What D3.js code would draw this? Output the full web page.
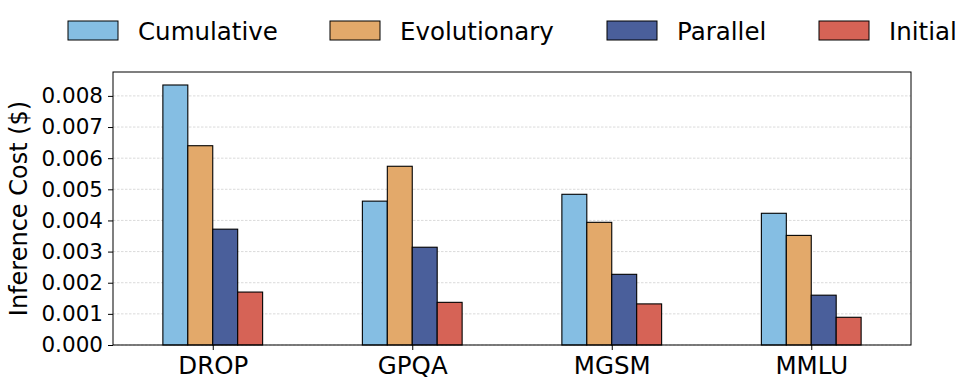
<!DOCTYPE html>
<html>
<head>
<meta charset="utf-8">
<script src="https://cdn.jsdelivr.net/npm/d3@7"></script>
<style>
  body { margin: 0; background: #fff; }
  svg { font-family: "DejaVu Sans", sans-serif; }
</style>
</head>
<body>
<div id="canvas"></div>
<script>
// data
const categories = ["DROP", "GPQA", "MGSM", "MMLU"];
const seriesNames = ["Cumulative", "Evolutionary", "Parallel", "Initial"];
const cumulative = [0.00835, 0.00462, 0.00484, 0.00423];
const evolutionary = [0.00640, 0.00574, 0.00394, 0.00352];
const parallel = [0.00372, 0.00314, 0.00227, 0.00160];
const initial = [0.00170, 0.00137, 0.00132, 0.00089];
const yTicks = [0, 0.001, 0.002, 0.003, 0.004, 0.005, 0.006, 0.007, 0.008];
const colors = ["#85bee3", "#e3a96a", "#4a5f9b", "#d66356"];

const seriesValues = [cumulative, evolutionary, parallel, initial];

// dimensions
const width = 977;
const height = 389;
const margins = {top: 72, right: 66, bottom: 44, left: 113};
const dataWidth = width - margins.left - margins.right;
const dataHeight = height - margins.top - margins.bottom;

var svg = d3.select("#canvas").append("svg")
    .attr("width", width)
    .attr("height", height);

var dataArea = svg.append("g")
    .attr("transform", `translate(${margins.left}, ${margins.top})`);

// scales (pandas style: categories at 0..3, xlim -0.5..3.5)
var x = d3.scaleLinear().domain([-0.5, categories.length - 0.5]).range([0, dataWidth]);
var maxVal = d3.max(seriesValues, s => d3.max(s));
var y = d3.scaleLinear().domain([0, maxVal * 1.05]).range([dataHeight, 0]);

const barW = 0.5 / seriesNames.length;

// grid
dataArea.append("g")
    .selectAll("line")
    .data(yTicks)
    .join("line")
    .attr("x1", 0)
    .attr("x2", dataWidth)
    .attr("y1", d => y(d))
    .attr("y2", d => y(d))
    .attr("stroke", "#cccccc")
    .attr("stroke-width", 0.7)
    .attr("stroke-dasharray", "2.5,1.5");

// bars
seriesValues.forEach(function(vals, si) {
    dataArea.append("g")
        .selectAll("rect")
        .data(vals)
        .join("rect")
        .attr("x", (d, i) => x(i - 0.25 + si * barW))
        .attr("y", d => y(d))
        .attr("width", x(barW) - x(0))
        .attr("height", d => dataHeight - y(d))
        .attr("fill", colors[si])
        .attr("stroke", "#000")
        .attr("stroke-width", 1.1);
});

// axes
var yAxis = dataArea.append("g")
    .call(d3.axisLeft(y).tickValues(yTicks).tickFormat(d3.format(".3f")).tickSize(5).tickPadding(5));
yAxis.select(".domain").remove();
yAxis.selectAll("text").attr("font-size", 21.5).attr("fill", "#000").attr("font-family", "DejaVu Sans");

var xAxis = dataArea.append("g")
    .attr("transform", `translate(0, ${dataHeight})`)
    .call(d3.axisBottom(x).tickValues(d3.range(categories.length)).tickFormat(i => categories[i]).tickSize(5).tickPadding(7));
xAxis.select(".domain").remove();
xAxis.selectAll("text").attr("font-size", 24.5).attr("fill", "#000").attr("font-family", "DejaVu Sans");

// frame
dataArea.append("rect")
    .attr("width", dataWidth)
    .attr("height", dataHeight)
    .attr("fill", "none")
    .attr("stroke", "#000")
    .attr("stroke-width", 1);

// Y axis label
svg.append("text")
    .attr("text-anchor", "middle")
    .attr("transform", `translate(19, ${margins.top + dataHeight / 2}) rotate(-90)`)
    .attr("dominant-baseline", "central")
    .attr("font-size", 24)
    .text("Inference Cost ($)");

// legend
const legendX = [68, 330, 607, 819];
var legend = svg.append("g");
seriesNames.forEach(function(name, i) {
    legend.append("rect")
        .attr("x", legendX[i])
        .attr("y", 21)
        .attr("width", 50)
        .attr("height", 19)
        .attr("fill", colors[i])
        .attr("stroke", "#000")
        .attr("stroke-width", 1);
    legend.append("text")
        .attr("x", legendX[i] + 70)
        .attr("y", 31)
        .attr("dominant-baseline", "central")
        .attr("font-size", 24.5)
        .text(name);
});
</script>
</body>
</html>
